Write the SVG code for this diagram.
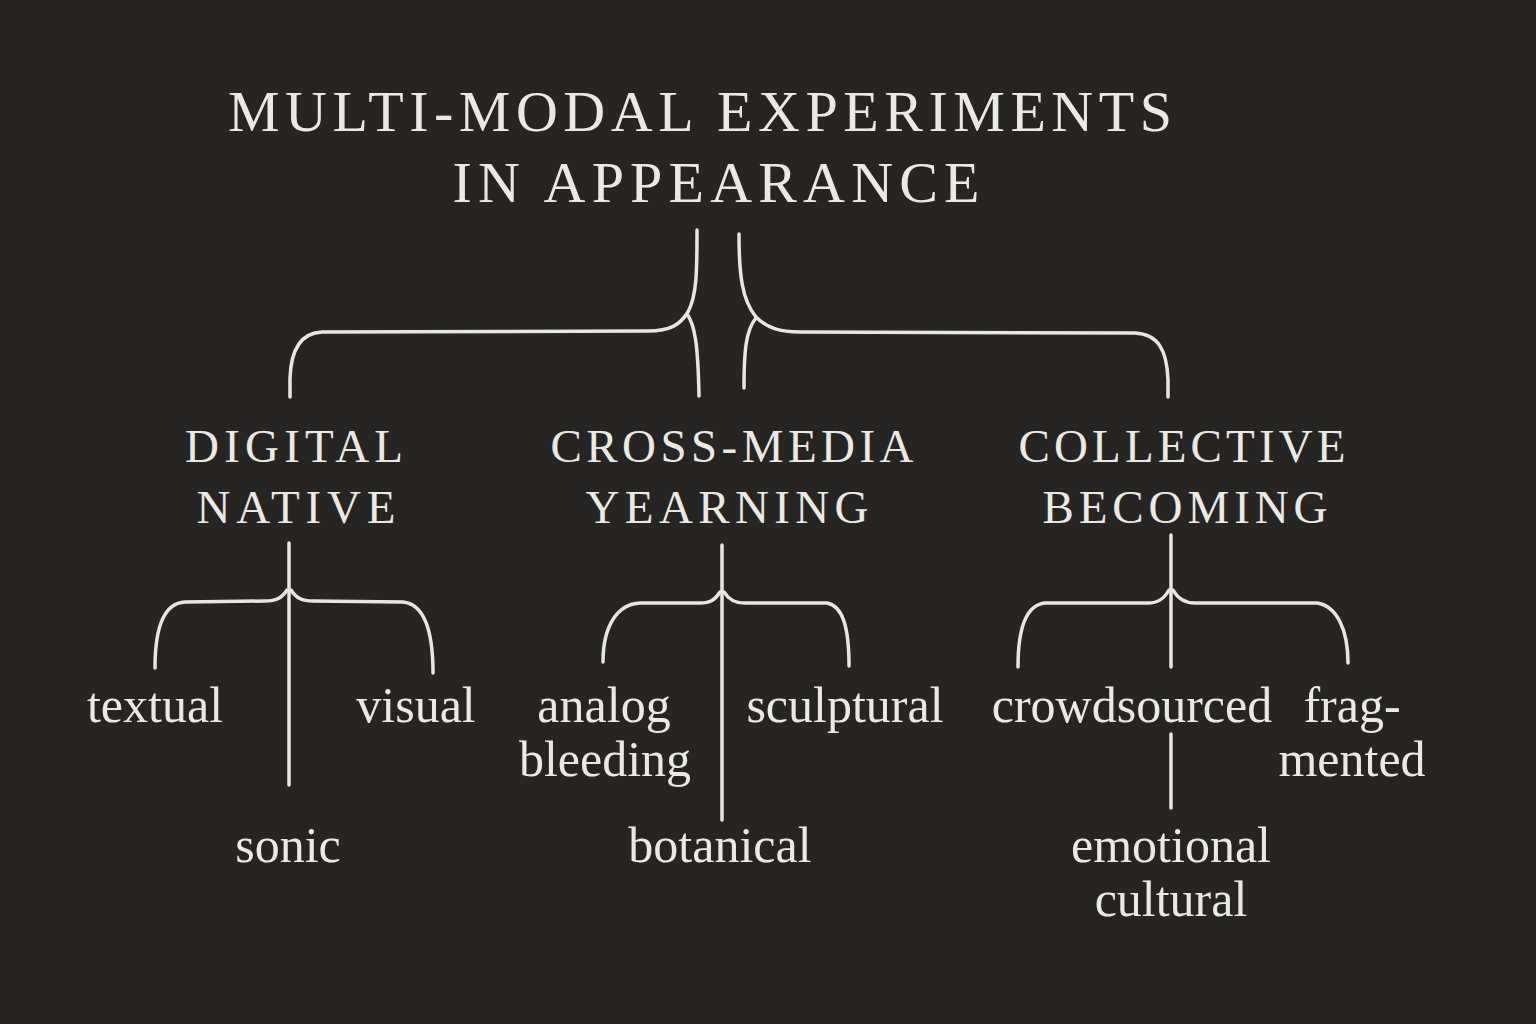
<svg xmlns="http://www.w3.org/2000/svg" width="1536" height="1024" viewBox="0 0 1536 1024">
<style>
.bg{fill:#262523}
.title{font-family:"Liberation Serif","DejaVu Serif",serif;font-size:58px;fill:#ebe9e3;text-anchor:middle}
.cat{font-family:"Liberation Serif","DejaVu Serif",serif;font-size:47px;fill:#ebe9e3;text-anchor:middle}
.leaf{font-family:"Liberation Serif","DejaVu Serif",serif;font-size:50px;fill:#ebe9e3;text-anchor:middle}
.ln{fill:none;stroke:#e8e6e0;stroke-width:3.5;stroke-linecap:round;stroke-linejoin:round}
</style>
<rect class="bg" x="0" y="0" width="1536" height="1024"/>
<g id="title">
<text class="title" x="700" y="131" textLength="944" lengthAdjust="spacing">MULTI-MODAL EXPERIMENTS</text>
<text class="title" x="716" y="202" textLength="527" lengthAdjust="spacing">IN APPEARANCE</text>
</g>
<g id="digital-native">
<text class="cat" x="294" y="462" textLength="218" lengthAdjust="spacing">DIGITAL</text>
<text class="cat" x="296" y="523" textLength="199" lengthAdjust="spacing">NATIVE</text>
</g>
<g id="cross-media">
<text class="cat" x="732" y="462" textLength="363" lengthAdjust="spacing">CROSS-MEDIA</text>
<text class="cat" x="727" y="523" textLength="283" lengthAdjust="spacing">YEARNING</text>
</g>
<g id="collective">
<text class="cat" x="1182" y="462" textLength="327" lengthAdjust="spacing">COLLECTIVE</text>
<text class="cat" x="1185" y="523" textLength="285" lengthAdjust="spacing">BECOMING</text>
</g>
<g id="textual"><text class="leaf" x="155" y="722">textual</text></g>
<g id="visual"><text class="leaf" x="416" y="722">visual</text></g>
<g id="sonic"><text class="leaf" x="288" y="862">sonic</text></g>
<g id="analog-bleeding"><text class="leaf" x="604" y="722">analog</text><text class="leaf" x="605" y="776">bleeding</text></g>
<g id="sculptural"><text class="leaf" x="845" y="722">sculptural</text></g>
<g id="botanical"><text class="leaf" x="720" y="862">botanical</text></g>
<g id="crowdsourced"><text class="leaf" x="1132" y="722">crowdsourced</text></g>
<g id="fragmented"><text class="leaf" x="1352" y="722">frag-</text><text class="leaf" x="1352" y="776">mented</text></g>
<g id="emotional-cultural"><text class="leaf" x="1171" y="862">emotional</text><text class="leaf" x="1171" y="916">cultural</text></g>
<g id="connectors">
<path class="ln" d="M697,230 C697,270 697,295 688,312 C680,325 670,331 648,331 L322,332 C300,333 291,350 290,378 L290,397"/>
<path class="ln" d="M687,314 C695,325 698,345 699,396"/>
<path class="ln" d="M739,234 C739,275 742,300 756,317 C767,328 780,332 800,332 L1135,333 C1158,334 1167,350 1168,380 L1168,397"/>
<path class="ln" d="M756,318 C746,330 744,350 744,388"/>
<path class="ln" d="M289,543 L289,785"/>
<path class="ln" d="M287,590 C282,598 276,601 265,601 L185,602 C165,603 155,625 155,668"/>
<path class="ln" d="M291,590 C296,598 302,601 313,601 L403,602 C422,604 433,625 433,673"/>
<path class="ln" d="M722,545 L722,820"/>
<path class="ln" d="M720,592 C715,600 710,603 700,603 L640,603 C618,604 603,625 603,662"/>
<path class="ln" d="M724,592 C729,600 735,603 745,603 L827,603 C842,606 849,625 849,666"/>
<path class="ln" d="M1171,535 L1171,667"/>
<path class="ln" d="M1169,590 C1164,599 1158,603 1148,603 L1045,603 C1025,605 1018,630 1018,667"/>
<path class="ln" d="M1173,590 C1178,599 1185,603 1195,603 L1317,603 C1337,606 1348,630 1348,663"/>
<path class="ln" d="M1171,734 L1171,808"/>
</g>
</svg>
